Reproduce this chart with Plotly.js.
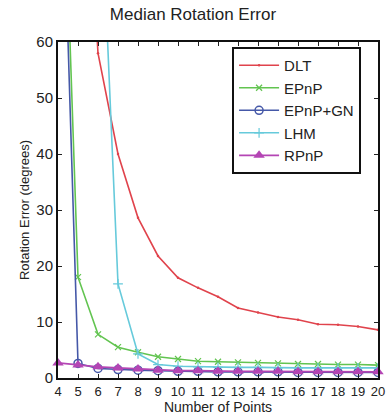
<!DOCTYPE html>
<html>
<head>
<meta charset="utf-8">
<script src="https://cdn.plot.ly/plotly-3.0.1.min.js"></script>
<style>
html,body{margin:0;padding:0;background:#fff;}
#chart{width:386px;height:415px;}
</style>
</head>
<body>
<div id="chart"></div>
<script>
var numPoints = [4,5,6,7,8,9,10,11,12,13,14,15,16,17,18,19,20];
var dlt     = [200,120,58,40,28.6,21.8,17.9,16.1,14.5,12.5,11.7,10.9,10.4,9.6,9.5,9.2,8.6];
var epnp    = [123,18,7.8,5.5,4.6,3.8,3.4,3.0,2.9,2.8,2.7,2.6,2.5,2.5,2.4,2.4,2.3];
var epnpGN  = [118,2.6,1.7,1.5,1.4,1.3,1.2,1.2,1.1,1.1,1.1,1.1,1.0,1.0,1.0,1.0,1.0];
var lhm     = [220,180,100,16.8,4.3,2.4,2.1,2.0,1.9,1.9,1.9,1.8,1.8,1.8,1.8,1.8,1.8];
var rpnp    = [2.7,2.3,2.0,1.8,1.6,1.4,1.3,1.3,1.2,1.2,1.2,1.2,1.1,1.1,1.1,1.1,1.1];
var seriesNames = ['DLT','EPnP','EPnP+GN','LHM','RPnP'];

var traces = [
  {x: numPoints, y: dlt, name: seriesNames[0], mode: 'lines+markers',
   line: {color: '#e0434c', width: 1.6}, marker: {symbol: 'circle', size: 2.5, color: '#e0434c'}},
  {x: numPoints, y: epnp, name: seriesNames[1], mode: 'lines+markers',
   line: {color: '#62c450', width: 1.6}, marker: {symbol: 'x-thin-open', size: 6, color: '#62c450', line: {color: '#62c450', width: 1.2}}},
  {x: numPoints, y: epnpGN, name: seriesNames[2], mode: 'lines+markers',
   line: {color: '#4558a8', width: 1.6}, marker: {symbol: 'circle-open', size: 8, color: '#4558a8', line: {color: '#4558a8', width: 1.5}}},
  {x: numPoints, y: lhm, name: seriesNames[3], mode: 'lines+markers',
   line: {color: '#66cadb', width: 1.6}, marker: {symbol: 'cross-thin-open', size: 7, color: '#66cadb', line: {color: '#66cadb', width: 1.2}}},
  {x: numPoints, y: rpnp, name: seriesNames[4], mode: 'lines+markers', cliponaxis: false,
   line: {color: '#b445b4', width: 1.8}, marker: {symbol: 'triangle-up', size: 10, color: '#b445b4'}}
];

var fontFam = 'Liberation Sans, Arial, sans-serif';
var layout = {
  width: 386, height: 415,
  margin: {l: 58, r: 8, t: 42, b: 37, pad: 0},
  paper_bgcolor: '#fff', plot_bgcolor: '#fff',
  font: {family: fontFam, color: '#222', size: 14},
  title: {text: 'Median Rotation Error', font: {family: fontFam, size: 17, color: '#222'},
          x: 0.5, xanchor: 'center', y: 1, yanchor: 'top', yref: 'container', pad: {t: 8}},
  xaxis: {
    range: [4, 20], tickvals: numPoints, ticktext: numPoints.map(String),
    ticks: 'inside', ticklen: 4, tickcolor: '#222', tickwidth: 1,
    showline: true, linecolor: '#111', linewidth: 2, mirror: 'ticks',
    showgrid: false, zeroline: false, tickangle: 0,
    tickfont: {family: fontFam, size: 13, color: '#222'},
    title: {text: 'Number of Points', font: {family: fontFam, size: 14, color: '#222'}, standoff: 0}
  },
  yaxis: {
    range: [0, 60], tickvals: [0,10,20,30,40,50,60],
    ticks: 'inside', ticklen: 4, tickcolor: '#222', tickwidth: 1,
    showline: true, linecolor: '#111', linewidth: 2, mirror: 'ticks',
    showgrid: false, zeroline: false,
    tickfont: {family: fontFam, size: 15, color: '#222'},
    title: {text: 'Rotation Error (degrees)', font: {family: fontFam, size: 13, color: '#222'}, standoff: 4}
  },
  showlegend: true,
  legend: {
    x: 0.544, y: 0.985, xanchor: 'left', yanchor: 'top',
    bgcolor: '#fff', bordercolor: '#111', borderwidth: 2,
    font: {family: fontFam, size: 15, color: '#222'},
    itemwidth: 40, tracegroupgap: 0
  }
};

Plotly.newPlot('chart', traces, layout, {staticPlot: true, displayModeBar: false});
</script>
</body>
</html>
